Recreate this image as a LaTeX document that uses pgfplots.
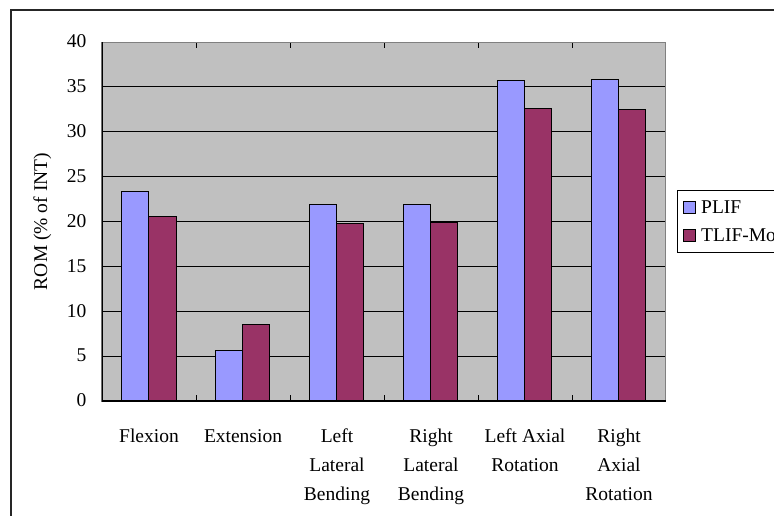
\documentclass[border=0pt]{standalone}
\usepackage{pgfplots}
\pgfplotsset{compat=1.18}
\usepackage{fontspec}
\setmainfont{Liberation Serif}
\definecolor{plif}{HTML}{9999FF}
\definecolor{tlif}{HTML}{993366}
\definecolor{plotbg}{HTML}{C0C0C0}
\definecolor{edgegray}{HTML}{808080}
\newcommand{\chartfont}{\fontsize{19.5}{29}\selectfont}
\begin{document}
\begin{tikzpicture}[x=1pt,y=1pt]
\useasboundingbox (0,0) rectangle (774,515);
\clip (0,0) rectangle (774,515);
% outer chart frame
\draw[line width=1.3pt, black!85] (11,-20) -- (11,505) -- (820,505);
\begin{axis}[
  at={(102pt,114pt)}, anchor=south west,
  scale only axis, width=564pt, height=359pt,
  axis background/.style={fill=plotbg},
  axis line style={draw=edgegray, line width=1pt},
  ybar=0pt, bar width=27pt,
  xmin=-0.5, xmax=5.5, ymin=0, ymax=40,
  ytick={0,5,...,40},
  ymajorgrids, major grid style={black, line width=0.9pt},
  tick align=inside, major tick length=6pt,
  tick style={black, line width=0.9pt},
  xtick={0.5,1.5,...,4.5}, xticklabels={},
  extra x ticks={0,1,2,3,4,5},
  extra x tick labels={Flexion, Extension, {Left\\Lateral\\Bending}, {Right\\Lateral\\Bending}, {Left Axial\\Rotation}, {Right\\Axial\\Rotation}},
  extra x tick style={major tick length=0pt, grid=none},
  typeset ticklabels with strut,
  xticklabel style={font=\chartfont, align=center, anchor=north, yshift=-18pt},
  yticklabel style={font=\chartfont, xshift=-12pt},
  /pgf/number format/assume math mode=true,
  ylabel={ROM (\% of INT)},
  ylabel style={font=\chartfont, at={(axis description cs:-0.106,0.5)}, anchor=center},
  legend entries={PLIF, TLIF-Mod},
  legend style={at={(1.0195,0.5)}, anchor=west, draw=black, line width=0.8pt,
    font=\chartfont, row sep=9pt, inner xsep=6pt, inner ysep=8pt,
    /tikz/every odd column/.style={column sep=3pt}},
  legend cell align=left,
  legend image code/.code={\draw[#1, line width=0.8pt] (0pt,-6pt) rectangle (12pt,6pt);},
]
\addplot[fill=plif, draw=black, line width=1pt] coordinates {(0,23.3) (1,5.67) (2,21.9) (3,21.9) (4,35.67) (5,35.8)};
\addplot[fill=tlif, draw=black, line width=1pt] coordinates {(0,20.6) (1,8.56) (2,19.74) (3,19.9) (4,32.6) (5,32.5)};
\draw[black, line width=1.2pt] (rel axis cs:0,1) -- (rel axis cs:0,0) -- (rel axis cs:1,0);
\end{axis}
\end{tikzpicture}
\end{document}
